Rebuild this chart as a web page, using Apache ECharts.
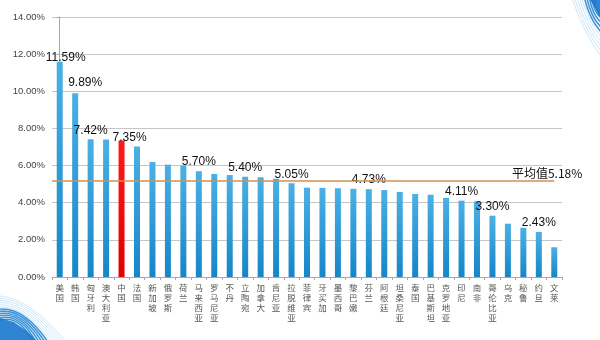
<!DOCTYPE html>
<html>
<head>
<meta charset="utf-8">
<script src="https://cdn.jsdelivr.net/npm/echarts@6/dist/echarts.min.js"></script>
<style>
  html, body { margin: 0; padding: 0; background: #ffffff; }
  #chart { width: 600px; height: 340px; }
</style>
</head>
<body>
<div id="chart"></div>
<script>
// Country names along the category axis
const countries = ['美国', '韩国', '匈牙利', '澳大利亚', '中国', '法国', '新加坡', '俄罗斯', '荷兰',
  '马来西亚', '罗马尼亚', '不丹', '立陶宛', '加拿大', '肯尼亚', '拉脱维亚', '菲律宾', '牙买加',
  '墨西哥', '黎巴嫩', '芬兰', '阿根廷', '坦桑尼亚', '泰国', '巴基斯坦', '克罗地亚', '印尼', '南非',
  '哥伦比亚', '乌克', '秘鲁', '约旦', '文莱'];

// Share per country, in percent
const shares = [11.59, 9.89, 7.42, 7.41, 7.35, 7.03, 6.19, 6.05, 5.99,
  5.70, 5.55, 5.49, 5.40, 5.37, 5.29, 5.05, 4.81, 4.80,
  4.78, 4.75, 4.73, 4.68, 4.58, 4.47, 4.43, 4.26, 4.11, 4.07,
  3.30, 2.87, 2.65, 2.43, 1.60];

// Countries whose bars carry a value label
const labelledCountries = ['美国', '韩国', '匈牙利', '中国', '马来西亚', '立陶宛', '拉脱维亚',
  '芬兰', '印尼', '哥伦比亚', '约旦'];

// Highlighted country and the average
const highlightCountry = '中国';
const averageShare = 5.18;

// Y axis ticks
const yTicks = [0, 2, 4, 6, 8, 10, 12, 14];

const latin = '"Liberation Sans", Arial, sans-serif';
const cjk = '"Noto Sans CJK SC", sans-serif';

const blueFill = new echarts.graphic.LinearGradient(0, 0, 0, 1, [
  { offset: 0, color: '#4bb0e4' },
  { offset: 1, color: '#1686c8' }
]);
const redFill = new echarts.graphic.LinearGradient(0, 0, 0, 1, [
  { offset: 0, color: '#ff1a1a' },
  { offset: 1, color: '#e00000' }
]);

// a few labels sit slightly off their bars
const labelNudge = { '美国': [6, 5], '韩国': [10, -2], '中国': [8, 6] };

const barData = shares.map((v, i) => {
  const name = countries[i];
  const item = { value: v };
  if (name === highlightCountry) item.itemStyle = { color: redFill };
  if (labelledCountries.includes(name)) {
    item.label = {
      show: true,
      position: 'top',
      distance: 3,
      offset: labelNudge[name] || [0, 0],
      formatter: v.toFixed(2) + '%',
      fontFamily: latin,
      fontSize: 12,
      color: '#111'
    };
  }
  return item;
});

// corner swooshes
function swooshes() {
  const els = [];
  for (let k = 0; k < 12; k++) {
    els.push({
      type: 'bezierCurve',
      silent: true,
      shape: {
        x1: 0, y1: 296 + k * 2.2,
        cpx1: 30 - k, cpy1: 298 + k * 1.5,
        x2: 66 - k * 3, y2: 342
      },
      style: { stroke: k < 6 ? 'rgba(140,200,240,0.55)' : 'rgba(30,130,210,0.85)', lineWidth: k < 6 ? 0.8 : 1.6, fill: null }
    });
  }
  els.push({
    type: 'polygon', silent: true,
    shape: { points: [[0, 318], [14, 322], [28, 332], [36, 340], [0, 340]] },
    style: { fill: 'rgba(25,120,205,0.9)' }
  });
  for (let k = 0; k < 10; k++) {
    els.push({
      type: 'bezierCurve',
      silent: true,
      shape: {
        x1: 572 + k * 2.5, y1: -2,
        cpx1: 582 + k * 1.5, cpy1: 30 - k * 2,
        x2: 602, y2: 58 - k * 5
      },
      style: { stroke: k < 5 ? 'rgba(140,200,240,0.55)' : 'rgba(30,130,210,0.85)', lineWidth: k < 5 ? 0.8 : 1.6, fill: null }
    });
  }
  els.push({
    type: 'polygon', silent: true,
    shape: { points: [[590, 0], [600, 0], [600, 18], [595, 8]] },
    style: { fill: 'rgba(25,120,205,0.9)' }
  });
  return els;
}

const chart = echarts.init(document.getElementById('chart'), null, { renderer: 'canvas' });
chart.setOption({
  backgroundColor: '#ffffff',
  animation: false,
  graphic: swooshes(),
  grid: { left: 52, right: 38, top: 17, bottom: 63, containLabel: false },
  xAxis: [{
    type: 'category',
    data: countries,
    axisLine: { lineStyle: { color: '#a8a8a8', width: 1 } },
    axisTick: { show: true, length: 3, lineStyle: { color: '#a8a8a8' } },
    axisLabel: {
      interval: 0,
      margin: 6,
      fontFamily: cjk,
      fontSize: 8.5,
      lineHeight: 10,
      color: '#555',
      verticalAlign: 'top',
      formatter: v => v.split('').join('\n')
    }
  }, {
    // hidden index axis aligned with the category bands, used for the average line
    type: 'value',
    show: false,
    min: -0.5,
    max: countries.length - 0.5
  }],
  yAxis: {
    type: 'value',
    min: yTicks[0],
    max: yTicks[yTicks.length - 1],
    interval: yTicks[1] - yTicks[0],
    axisLine: { show: true, lineStyle: { color: '#a8a8a8' } },
    axisTick: { show: true, length: 3, lineStyle: { color: '#a8a8a8' } },
    splitLine: { lineStyle: { color: '#c6c6c6', width: 1.2 } },
    axisLabel: {
      margin: 7,
      fontFamily: latin,
      fontSize: 9.5,
      color: '#444',
      formatter: v => v.toFixed(2) + '%'
    }
  },
  series: [{
    type: 'bar',
    data: barData,
    barWidth: 6,
    itemStyle: { color: blueFill }
  }, {
    // average line from the y axis to the last country
    type: 'line',
    xAxisIndex: 1,
    data: [],
    markLine: {
      silent: true,
      symbol: 'none',
      lineStyle: { color: '#cf9158', width: 1.5, type: 'solid' },
      label: {
        show: true,
        position: 'insideEndTop',
        distance: 1,
        offset: [29, 0],
        formatter: '平均值' + averageShare.toFixed(2) + '%',
        fontFamily: cjk,
        fontSize: 12,
        color: '#111'
      },
      data: [[
        { coord: [-0.5, averageShare] },
        { coord: [countries.length - 1, averageShare] }
      ]]
    }
  }]
});
</script>
</body>
</html>
